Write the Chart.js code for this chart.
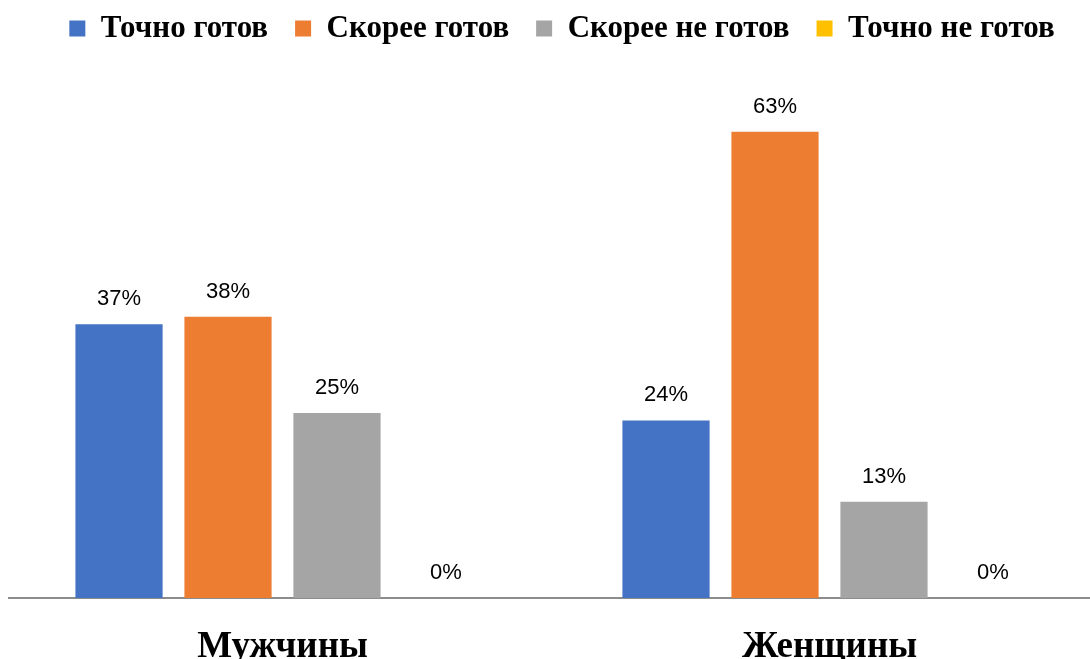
<!DOCTYPE html>
<html>
<head>
<meta charset="utf-8">
<script src="https://cdn.jsdelivr.net/npm/chart.js@4/dist/chart.umd.min.js"></script>
<style>
  html, body { margin: 0; padding: 0; background: #fff; overflow: hidden; }
  #wrap { width: 1103px; height: 720px; }
</style>
</head>
<body>
<div id="wrap"><canvas id="chart"></canvas></div>
<script>
  // данные с диаграммы
  const groups = ['Мужчины', 'Женщины'];
  const seriesNames = ['Точно готов', 'Скорее готов', 'Скорее не готов', 'Точно не готов'];
  const seriesColors = ['#4472C4', '#ED7D31', '#A5A5A5', '#FFC000'];
  const tochnoGotov = [37, 24];
  const skoreeGotov = [38, 63];
  const skoreeNeGotov = [25, 13];
  const tochnoNeGotov = [0, 0];
  const seriesValues = [tochnoGotov, skoreeGotov, skoreeNeGotov, tochnoNeGotov];

  // подписи значений над столбцами
  const valueLabels = {
    id: 'valueLabels',
    afterDatasetsDraw(chart) {
      const ctx = chart.ctx;
      ctx.save();
      ctx.font = '22px "Liberation Sans", Arial, sans-serif';
      ctx.fillStyle = '#000';
      ctx.textAlign = 'center';
      ctx.textBaseline = 'middle';
      chart.data.datasets.forEach((ds, i) => {
        chart.getDatasetMeta(i).data.forEach((bar, j) => {
          ctx.fillText(ds.data[j] + '%', bar.x, bar.y - 25);
        });
      });
      ctx.restore();
    }
  };

  // фиксированная высота легенды, чтобы область графика начиналась ниже
  const legendHeight = {
    id: 'legendHeight',
    beforeInit(chart) {
      const fit = chart.legend.fit;
      chart.legend.fit = function () {
        fit.call(this);
        this.height = 94;
      };
    },
    afterLayout(chart) {
      // легенда чуть правее, как в оригинале
      chart.legend.left += 6;
      chart.legend.right += 6;
    }
  };

  new Chart(document.getElementById('chart'), {
    type: 'bar',
    data: {
      labels: groups,
      datasets: seriesNames.map((name, i) => ({
        label: name,
        data: seriesValues[i],
        backgroundColor: seriesColors[i],
        categoryPercentage: 0.797,
        barPercentage: 0.8
      }))
    },
    options: {
      responsive: true,
      maintainAspectRatio: false,
      animation: false,
      layout: { padding: { left: 9, right: 0, top: -14, bottom: 0 } },
      plugins: {
        legend: {
          position: 'top',
          labels: {
            boxWidth: 16,
            boxHeight: 16,
            padding: 27,
            color: '#000',
            font: { family: '"Liberation Serif", "Times New Roman", serif', size: 31, weight: 'bold' }
          }
        },
        tooltip: { enabled: false }
      },
      scales: {
        x: {
          grid: { display: false, drawTicks: false },
          border: { display: true, color: '#8C8C8C', width: 2 },
          ticks: {
            color: '#000',
            padding: 27,
            font: { family: '"Liberation Serif", "Times New Roman", serif', size: 37, weight: 'bold' }
          },
          afterFit(scale) { scale.height = 122; }
        },
        y: {
          display: false,
          min: 0,
          max: 70
        }
      }
    },
    plugins: [valueLabels, legendHeight]
  });
</script>
</body>
</html>
